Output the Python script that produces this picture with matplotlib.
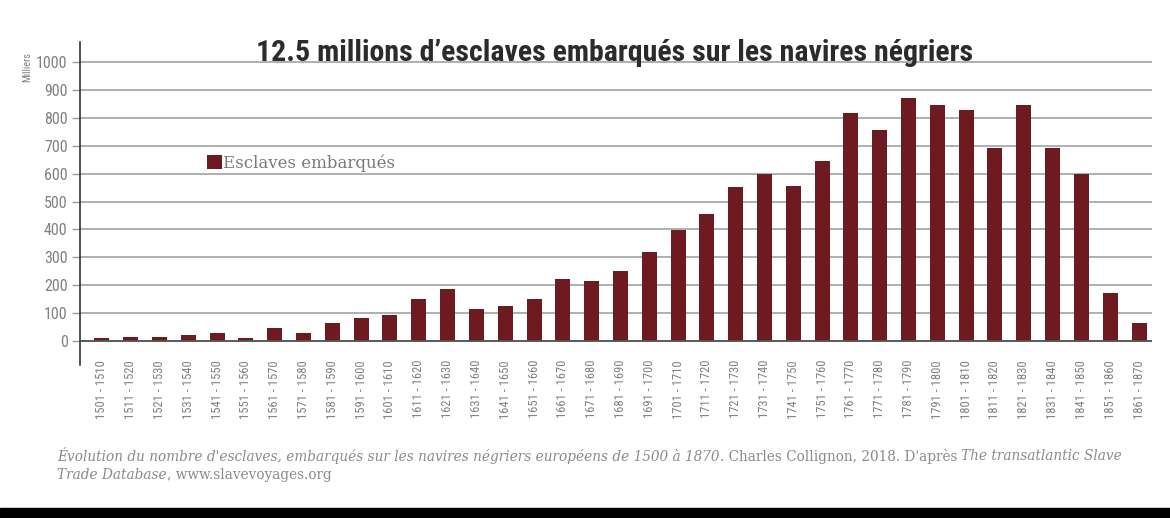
import matplotlib
matplotlib.use("Agg")
import matplotlib.pyplot as plt
from matplotlib.patches import Rectangle

# periods (decades) and thousands of slaves embarked
periods = ["1501 - 1510", "1511 - 1520", "1521 - 1530", "1531 - 1540", "1541 - 1550",
           "1551 - 1560", "1561 - 1570", "1571 - 1580", "1581 - 1590", "1591 - 1600",
           "1601 - 1610", "1611 - 1620", "1621 - 1630", "1631 - 1640", "1641 - 1650",
           "1651 - 1660", "1661 - 1670", "1671 - 1680", "1681 - 1690", "1691 - 1700",
           "1701 - 1710", "1711 - 1720", "1721 - 1730", "1731 - 1740", "1741 - 1750",
           "1751 - 1760", "1761 - 1770", "1771 - 1780", "1781 - 1790", "1791 - 1800",
           "1801 - 1810", "1811 - 1820", "1821 - 1830", "1831 - 1840", "1841 - 1850",
           "1851 - 1860", "1861 - 1870"]
slaves = [10, 16, 16, 23, 29, 11, 47, 30, 65, 84,
          93, 152, 186, 115, 126, 152, 223, 216, 252, 318,
          397, 454, 551, 598, 557, 644, 816, 758, 872, 846,
          829, 692, 846, 692, 599, 171, 63]
yticks = list(range(0, 1001, 100))

title = "12.5 millions d’esclaves embarqués sur les navires négriers"
legend_label = "Esclaves embarqués"

BAR = "#6d1b20"
GREY = "#808080"
COND = ["Roboto Condensed", "Liberation Sans Narrow", "DejaVu Sans"]

fig = plt.figure(figsize=(11.7, 5.18), dpi=100)
ax = fig.add_axes([80 / 1170, 1 - 365 / 518, (1152 - 80) / 1170, 323 / 518])

x = list(range(len(slaves)))
ax.bar(x, slaves, width=0.52, color=BAR, zorder=3, label=legend_label)

ax.set_xlim(-0.76, 36.45)
ax.set_ylim(-86, 1072)
ax.set_yticks(yticks)
ax.set_xticks(x)
ax.set_xticklabels(periods, rotation=90, fontsize=9, color=GREY, family=COND)
for lab in ax.get_yticklabels():
    lab.set_family(COND)
ax.tick_params(axis="y", length=6, width=1, color="#999999", pad=3,
               labelsize=11.5, labelcolor=GREY)
ax.tick_params(axis="x", length=0, pad=-3.6)
ax.grid(axis="y", color="#9a9a9a", lw=1.1, zorder=1)
ax.axhline(0, color="#555555", lw=1.3, zorder=4)

for s in ["top", "right", "bottom"]:
    ax.spines[s].set_visible(False)
ax.spines["left"].set_color("#333333")
ax.spines["left"].set_linewidth(1.2)

ax.text(-0.049, 0.922, "Milliers", transform=ax.transAxes, rotation=90,
        fontsize=7.5, color=GREY, family=COND, va="center", ha="center")

ax.legend(loc="center left", bbox_to_anchor=(199 / 1170, 1 - 163 / 518),
          bbox_transform=fig.transFigure, frameon=False, borderpad=0,
          handlelength=0.85, handleheight=0.85, handletextpad=0.1,
          prop={"family": "DejaVu Serif", "size": 12}, labelcolor="#7a7a7a")

fig.text(615 / 1170, 1 - 61 / 518, title, ha="center", va="baseline",
         fontsize=21.5, fontweight="bold", color="#2b2b2b", family=COND)

# caption, mixed italic / roman
renderer = fig.canvas.get_renderer()
cap_kw = dict(fontsize=9.8, color="#8a8a8a", family="DejaVu Serif", va="center")
lines = [
    (456, [("Évolution du nombre d'esclaves, embarqués sur les navires négriers européens de 1500 à 1870", "italic"),
           (". Charles Collignon, 2018. D'après ", "normal"),
           ("The transatlantic Slave", "italic")]),
    (475, [("Trade Database", "italic"), (", www.slavevoyages.org", "normal")]),
]
for ypix, parts in lines:
    xpix = 57
    for txt, st in parts:
        t = fig.text(xpix / 1170, 1 - ypix / 518, txt, style=st, **cap_kw)
        xpix = t.get_window_extent(renderer).x1

fig.patches.append(Rectangle((0, 0), 1, 10.5 / 518, transform=fig.transFigure,
                             color="black", zorder=0))

fig.savefig("out.png", dpi=100)
